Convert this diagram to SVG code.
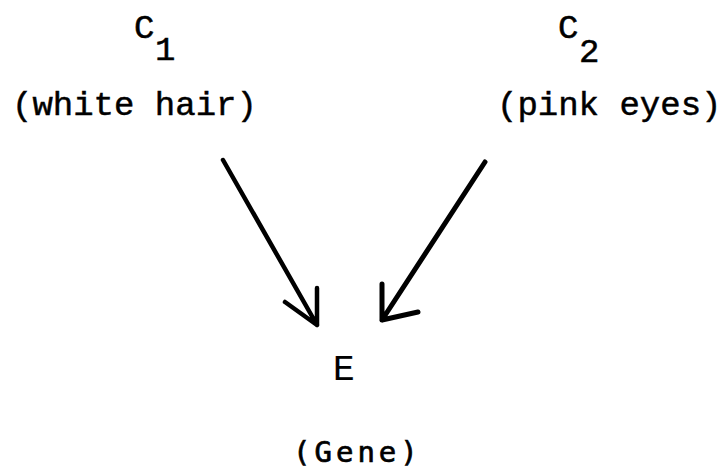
<svg xmlns="http://www.w3.org/2000/svg" width="727" height="469" viewBox="0 0 727 469">
<style>
.t{font-family:"Liberation Mono","Courier New",monospace;font-size:34px;fill:#000;stroke:#000;stroke-width:0.5}
.s{font-family:"DejaVu Sans Mono","Liberation Mono",monospace;font-size:29px;fill:#000;stroke:#000;stroke-width:0.7}
.c{fill:none;stroke:#000;stroke-width:4.5;stroke-linecap:round;stroke-linejoin:round}
</style>
<rect width="727" height="469" fill="#fff"/>
<g id="c1">
<text class="t" x="134" y="38">C</text>
<text class="t" x="155" y="60">1</text>
<text class="t" x="12" y="115">(white hair)</text>
</g>
<g id="c2">
<text class="t" x="558" y="38">C</text>
<text class="t" x="579" y="62">2</text>
<text class="t" x="497" y="115">(pink eyes)</text>
</g>
<g id="e">
<text class="t" x="333" y="380" style="font-size:36px;stroke-width:0.2">E</text>
<text class="s" x="293" y="462" letter-spacing="4">(Gene)</text>
</g>
<g id="connectors">
<path class="c" d="M223,160 L317,325 M317,288 L317,325 M285,302 L317,325"/>
<path class="c" style="stroke-width:5" d="M485,162 L382,320 M382,284 L382,320 M418,312 L382,320"/>
</g>
</svg>
